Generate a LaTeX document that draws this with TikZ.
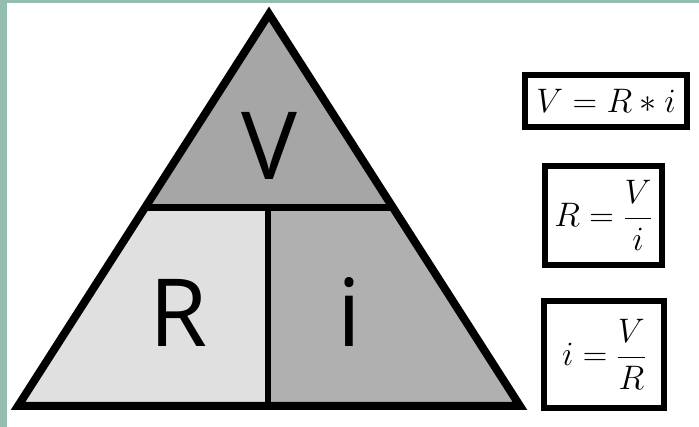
\RequirePackage{fix-cm}
\documentclass[tikz,border=0pt]{standalone}
\usepackage{fontspec}
\setmainfont{Open Sans}
\definecolor{frame}{HTML}{94BDB0}
\definecolor{topgray}{HTML}{A6A6A6}
\definecolor{leftgray}{HTML}{E0E0E0}
\definecolor{rightgray}{HTML}{B0B0B0}
\tikzset{
  bigletter/.style={font=\fontsize{94}{100}\selectfont, inner sep=0, anchor=base},
  eqbox/.style={draw, line width=6pt, inner sep=0, font=\fontsize{34}{40}\selectfont, fill=white},
  outline/.style={line width=8pt, line join=miter}
}
\begin{document}
\begin{tikzpicture}[x=1pt,y=-1pt]
\useasboundingbox (0,0) rectangle (699,427);
\fill[white] (0,0) rectangle (699,427);
\fill[frame] (0,0) rectangle (7,427);
\fill[frame] (0,0) rectangle (699,3);
% triangle geometry
\coordinate (apex) at (269,14);
\coordinate (bl) at (18,406);
\coordinate (br) at (520,406);
\coordinate (ml) at (145.6,208);
\coordinate (mr) at (392.4,208);
\coordinate (vt) at (268,208);
\coordinate (vb) at (268,406);
\fill[topgray] (apex) -- (mr) -- (ml) -- cycle;
\fill[leftgray] (ml) -- (vt) -- (vb) -- (bl) -- cycle;
\fill[rightgray] (vt) -- (mr) -- (br) -- (vb) -- cycle;
\draw[line width=7pt] (ml) -- (mr);
\draw[line width=6pt] (vt) -- (vb);
\draw[outline] (apex) -- (br) -- (bl) -- cycle;
% letters
\node[bigletter] (V) at (269,180) {V};
\node[bigletter] (R) at (179,347) {R};
\node[bigletter] (I) at (349,347) {i};
% equations
\node[eqbox, minimum width=162pt, minimum height=52pt] (eq1) at (606,101) {$V = R * i$};
\node[eqbox, minimum width=117pt, minimum height=99pt] (eq2) at (603.5,215.5) {$\displaystyle R = \frac{V}{i}$};
\node[eqbox, minimum width=120pt, minimum height=107pt] (eq3) at (604,354.5) {$\displaystyle i = \frac{V}{R}$};
\end{tikzpicture}
\end{document}
